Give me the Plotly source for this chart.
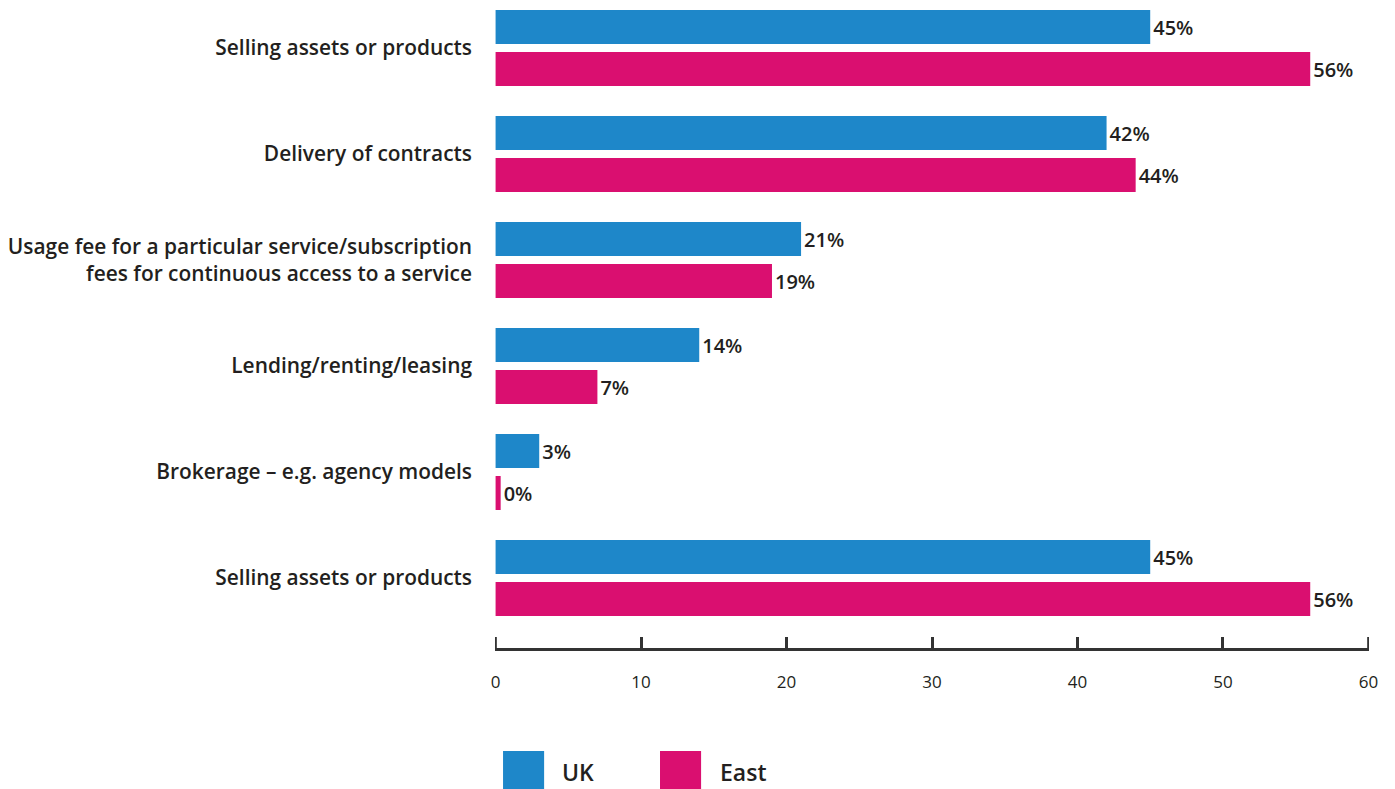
import plotly.graph_objects as go

categories = [
    "Selling assets or products",
    "Delivery of contracts",
    "Usage fee for a particular service/subscription<br>fees for continuous access to a service",
    "Lending/renting/leasing",
    "Brokerage – e.g. agency models",
    "Selling assets or products",
]
uk_values = [45, 42, 21, 14, 3, 45]
east_values = [56, 44, 19, 7, 0.35, 56]
x_ticks = [0, 10, 20, 30, 40, 50, 60]

UK_COLOR = "#1E87C9"
EAST_COLOR = "#DA0F70"
TEXT = "#231F20"
AXIS = "#333333"
FONT = "Open Sans"

positions = list(range(len(categories)))

fig = go.Figure()
for name, vals, color in [("UK", uk_values, UK_COLOR), ("East", east_values, EAST_COLOR)]:
    fig.add_trace(go.Bar(
        y=positions, x=vals, name=name, orientation="h",
        marker=dict(color=color, line=dict(width=0)),
        texttemplate="%{x:.0f}%", textposition="outside",
        textfont=dict(family=FONT, size=20, color=TEXT, weight=600),
        cliponaxis=False, showlegend=False,
    ))

# tick marks at both ends of the axis (plotly drops inside ticks on the plot edges)
for xv in (x_ticks[0], x_ticks[-1]):
    fig.add_shape(type="line", xref="x", yref="paper",
                  x0=xv, x1=xv, y0=0, y1=11 / 648,
                  line=dict(color=AXIS, width=2.5))

# custom legend below the axis
legend_items = [("UK", UK_COLOR, 0.0092, 0.0744), ("East", EAST_COLOR, 0.1888, 0.2551)]
for label, color, x0, tx in legend_items:
    fig.add_shape(type="rect", xref="paper", yref="paper",
                  x0=x0, x1=x0 + 0.047, y0=-0.2176, y1=-0.159,
                  fillcolor=color, line=dict(width=0))
    fig.add_annotation(text=label, xref="paper", yref="paper",
                       x=tx, y=-0.191, xanchor="left", yanchor="middle",
                       showarrow=False,
                       font=dict(family=FONT, size=23, color=TEXT, weight=600))

fig.update_layout(
    width=1395, height=789,
    margin=dict(l=495, r=26, t=0, b=141),
    paper_bgcolor="white", plot_bgcolor="white",
    barmode="group", bargap=0.208, bargroupgap=0.19,
    font=dict(family=FONT, color=TEXT),
    xaxis=dict(
        range=[-0.04, 60.04], tickvals=x_ticks, showgrid=False, zeroline=False,
        showline=True, linecolor=AXIS, linewidth=2.5,
        ticks="inside", ticklen=11, tickwidth=2.5, tickcolor=AXIS,
        ticklabelstandoff=17,
        tickfont=dict(family=FONT, size=17, color=TEXT, weight=500),
    ),
    yaxis=dict(
        tickvals=positions, ticktext=categories,
        range=[5.66, -0.453], showgrid=False, zeroline=False, showline=False,
        ticks="", ticklabelstandoff=22,
        tickfont=dict(family=FONT, size=20.9, color=TEXT, weight=600),
    ),
)

fig.write_html("out.html")
